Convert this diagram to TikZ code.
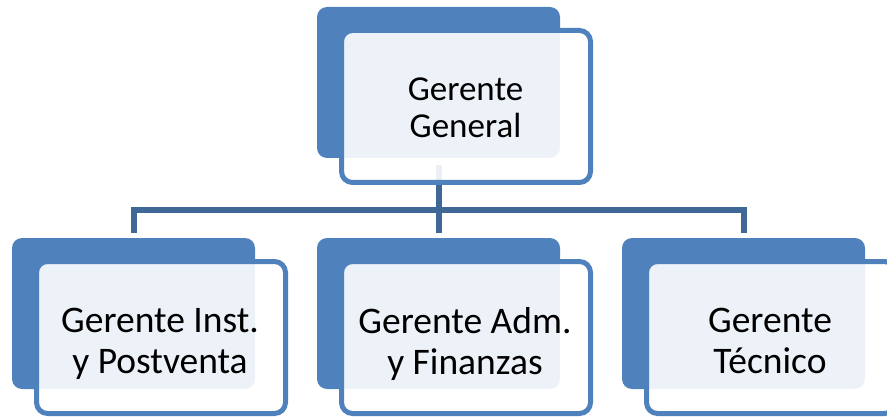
\documentclass[tikz,border=0pt]{standalone}
\usepackage{fontspec}
\setmainfont{Carlito}
\definecolor{accent}{HTML}{4F81BD}
\definecolor{connblue}{HTML}{3F6896}
\tikzset{
  darkbox/.style={draw=none, fill=accent, rounded corners=10pt, inner sep=0pt, outer sep=0pt,
    minimum width=243pt, minimum height=151pt},
  lightbox/.style={draw=accent, line width=5pt, fill=white, fill opacity=0.9, draw opacity=1,
    rounded corners=11pt, inner sep=0pt, outer sep=0pt, minimum width=249pt, minimum height=152pt},
  conn/.style={draw=connblue, line width=6pt, line join=miter},
  toplabel/.style={anchor=north, inner sep=0pt, align=center, font=\fontsize{35}{37.5}\selectfont},
  botlabel/.style={anchor=north, inner sep=0pt, align=center, font=\fontsize{37.5}{41}\selectfont},
}
\begin{document}
\begin{tikzpicture}[x=1pt,y=-1pt]
\useasboundingbox (0,0) rectangle (887,417);
\coordinate (bar) at (0,210);
% dark boxes
\node[darkbox] (gd) at (438.5,82.5) {};
\node[darkbox] (d1) at (133.5,313.5) {};
\node[darkbox] (d2) at (438.5,313.5) {};
\node[darkbox] (d3) at (743.5,313.5) {};
% connectors (behind the translucent light boxes)
\draw[conn] ([yshift=-7pt]gd.south) -- (gd.south |- bar);
\draw[conn] ([yshift=5pt]d1.north) -- (d1.north |- bar) -- (d3.north |- bar) -- ([yshift=5pt]d3.north);
\draw[conn] (d2.north |- bar) -- ([yshift=5pt]d2.north);
% light boxes
\node[lightbox] (gl) at (466,106.5) {};
\node[lightbox] (l1) at (161,337.5) {};
\node[lightbox] (l2) at (466,337.5) {};
\node[lightbox] (l3) at (771,337.5) {};
% labels
\node[toplabel] (tg) at (465.5,77.5) {Gerente\\General};
\node[botlabel] (t1) at (160,307.5) {Gerente Inst.\\y Postventa};
\node[botlabel] (t2) at (465,307.5) {Gerente Adm.\\y Finanzas};
\node[botlabel] (t3) at (770,307.5) {Gerente\\Técnico};
\end{tikzpicture}
\end{document}
